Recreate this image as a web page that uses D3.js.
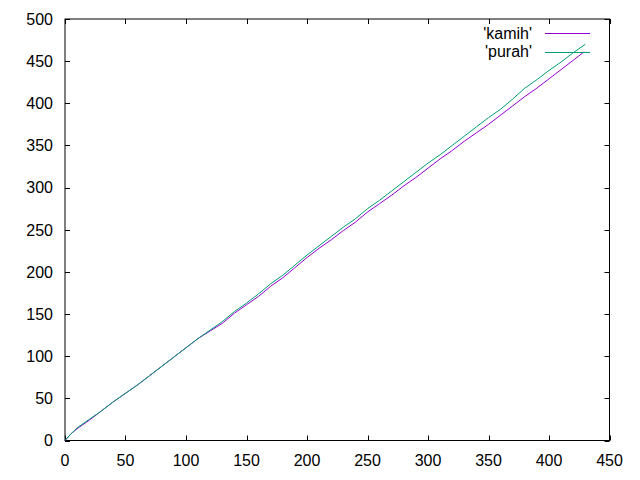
<!DOCTYPE html>
<html>
<head>
<meta charset="utf-8">
<script src="https://cdn.jsdelivr.net/npm/d3@7"></script>
<style>
  html, body { margin: 0; padding: 0; background: #fff; }
  svg { display: block; }
  text { font-family: "Liberation Sans", Arial, sans-serif; font-size: 16px; fill: #000; }
</style>
</head>
<body>
<svg id="chart" width="640" height="480"></svg>
<script>
// ---- data ----
const kamihX = [0,5,10,20,30,40,50,60,70,80,90,100,110,120,130,140,150,160,170,180,190,200,210,220,230,240,250,260,270,280,290,300,310,320,330,340,350,360,370,380,390,400,410,420,429];
const kamihY = [0,8,14,24,35,46,56,66,77,88,99,110,121,130,139,151,161,171,183,193,205,217,228,238,249,259,271,281,291,302,312,323,334,344,355,365,375,386,397,408,418,429,440,451,461];
const purahX = [0,5,10,20,30,40,50,60,70,80,90,100,110,120,130,140,150,160,170,180,190,200,210,220,230,240,250,260,270,280,290,300,310,320,330,340,350,360,370,380,390,400,410,420,430];
const purahY = [0,8,15,25,35,46,56,66,77,88,99,110,121,131,141,153,163,174,186,196,208,220,231,242,253,263,275,285,296,307,318,329,339,350,361,372,383,393,405,418,428,439,449,460,470];
const seriesNames = ["'kamih'", "'purah'"];
const seriesColors = ["#9400d3", "#009e73"];
const xTicks = [0,50,100,150,200,250,300,350,400,450];
const yTicks = [0,50,100,150,200,250,300,350,400,450,500];

// ---- layout ----
const L = 65, R = 609.5, T = 19, B = 440.5;
const svg = d3.select("#chart");
const x = d3.scaleLinear().domain([0, 450]).range([L, R]);
const y = d3.scaleLinear().domain([0, 500]).range([B, T]);
const tickLen = 5;

const g = svg.append("g");

// ticks (inward, mirrored)
xTicks.forEach(v => {
  const px = Math.round(x(v)) + 0.5;
  g.append("line").attr("x1", px).attr("x2", px).attr("y1", B).attr("y2", B - tickLen).attr("stroke", "#000");
  g.append("line").attr("x1", px).attr("x2", px).attr("y1", T).attr("y2", T + tickLen).attr("stroke", "#000");
  g.append("text").attr("x", x(v)).attr("y", 465.5).attr("text-anchor", "middle").text(v);
});
yTicks.forEach(v => {
  const py = Math.round(y(v)) + 0.5;
  g.append("line").attr("x1", L).attr("x2", L + tickLen).attr("y1", py).attr("y2", py).attr("stroke", "#000");
  g.append("line").attr("x1", R).attr("x2", R - tickLen).attr("y1", py).attr("y2", py).attr("stroke", "#000");
  g.append("text").attr("x", 53).attr("y", y(v)).attr("dy", "0.36em").attr("text-anchor", "end").text(v);
});

// border
g.append("rect").attr("x", L).attr("y", T).attr("width", R - L).attr("height", B - T)
  .attr("fill", "none").attr("stroke", "#000").attr("stroke-width", 1);

// series
const line = d3.line().x(d => x(d[0])).y(d => y(d[1]));
const data = [
  d3.zip(kamihX, kamihY),
  d3.zip(purahX, purahY)
];
data.forEach((pts, i) => {
  g.append("path").datum(pts).attr("d", line)
    .attr("fill", "none").attr("stroke", seriesColors[i]).attr("stroke-width", 1);
});

// legend
seriesNames.forEach((name, i) => {
  const ly = 33 + i * 18.5;
  g.append("text").attr("x", 532).attr("y", ly).attr("dy", "0.36em").attr("text-anchor", "end").text(name);
  g.append("line").attr("x1", 545).attr("x2", 590).attr("y1", Math.round(ly) + 0.5).attr("y2", Math.round(ly) + 0.5)
    .attr("stroke", seriesColors[i]).attr("stroke-width", 1);
});
</script>
</body>
</html>
